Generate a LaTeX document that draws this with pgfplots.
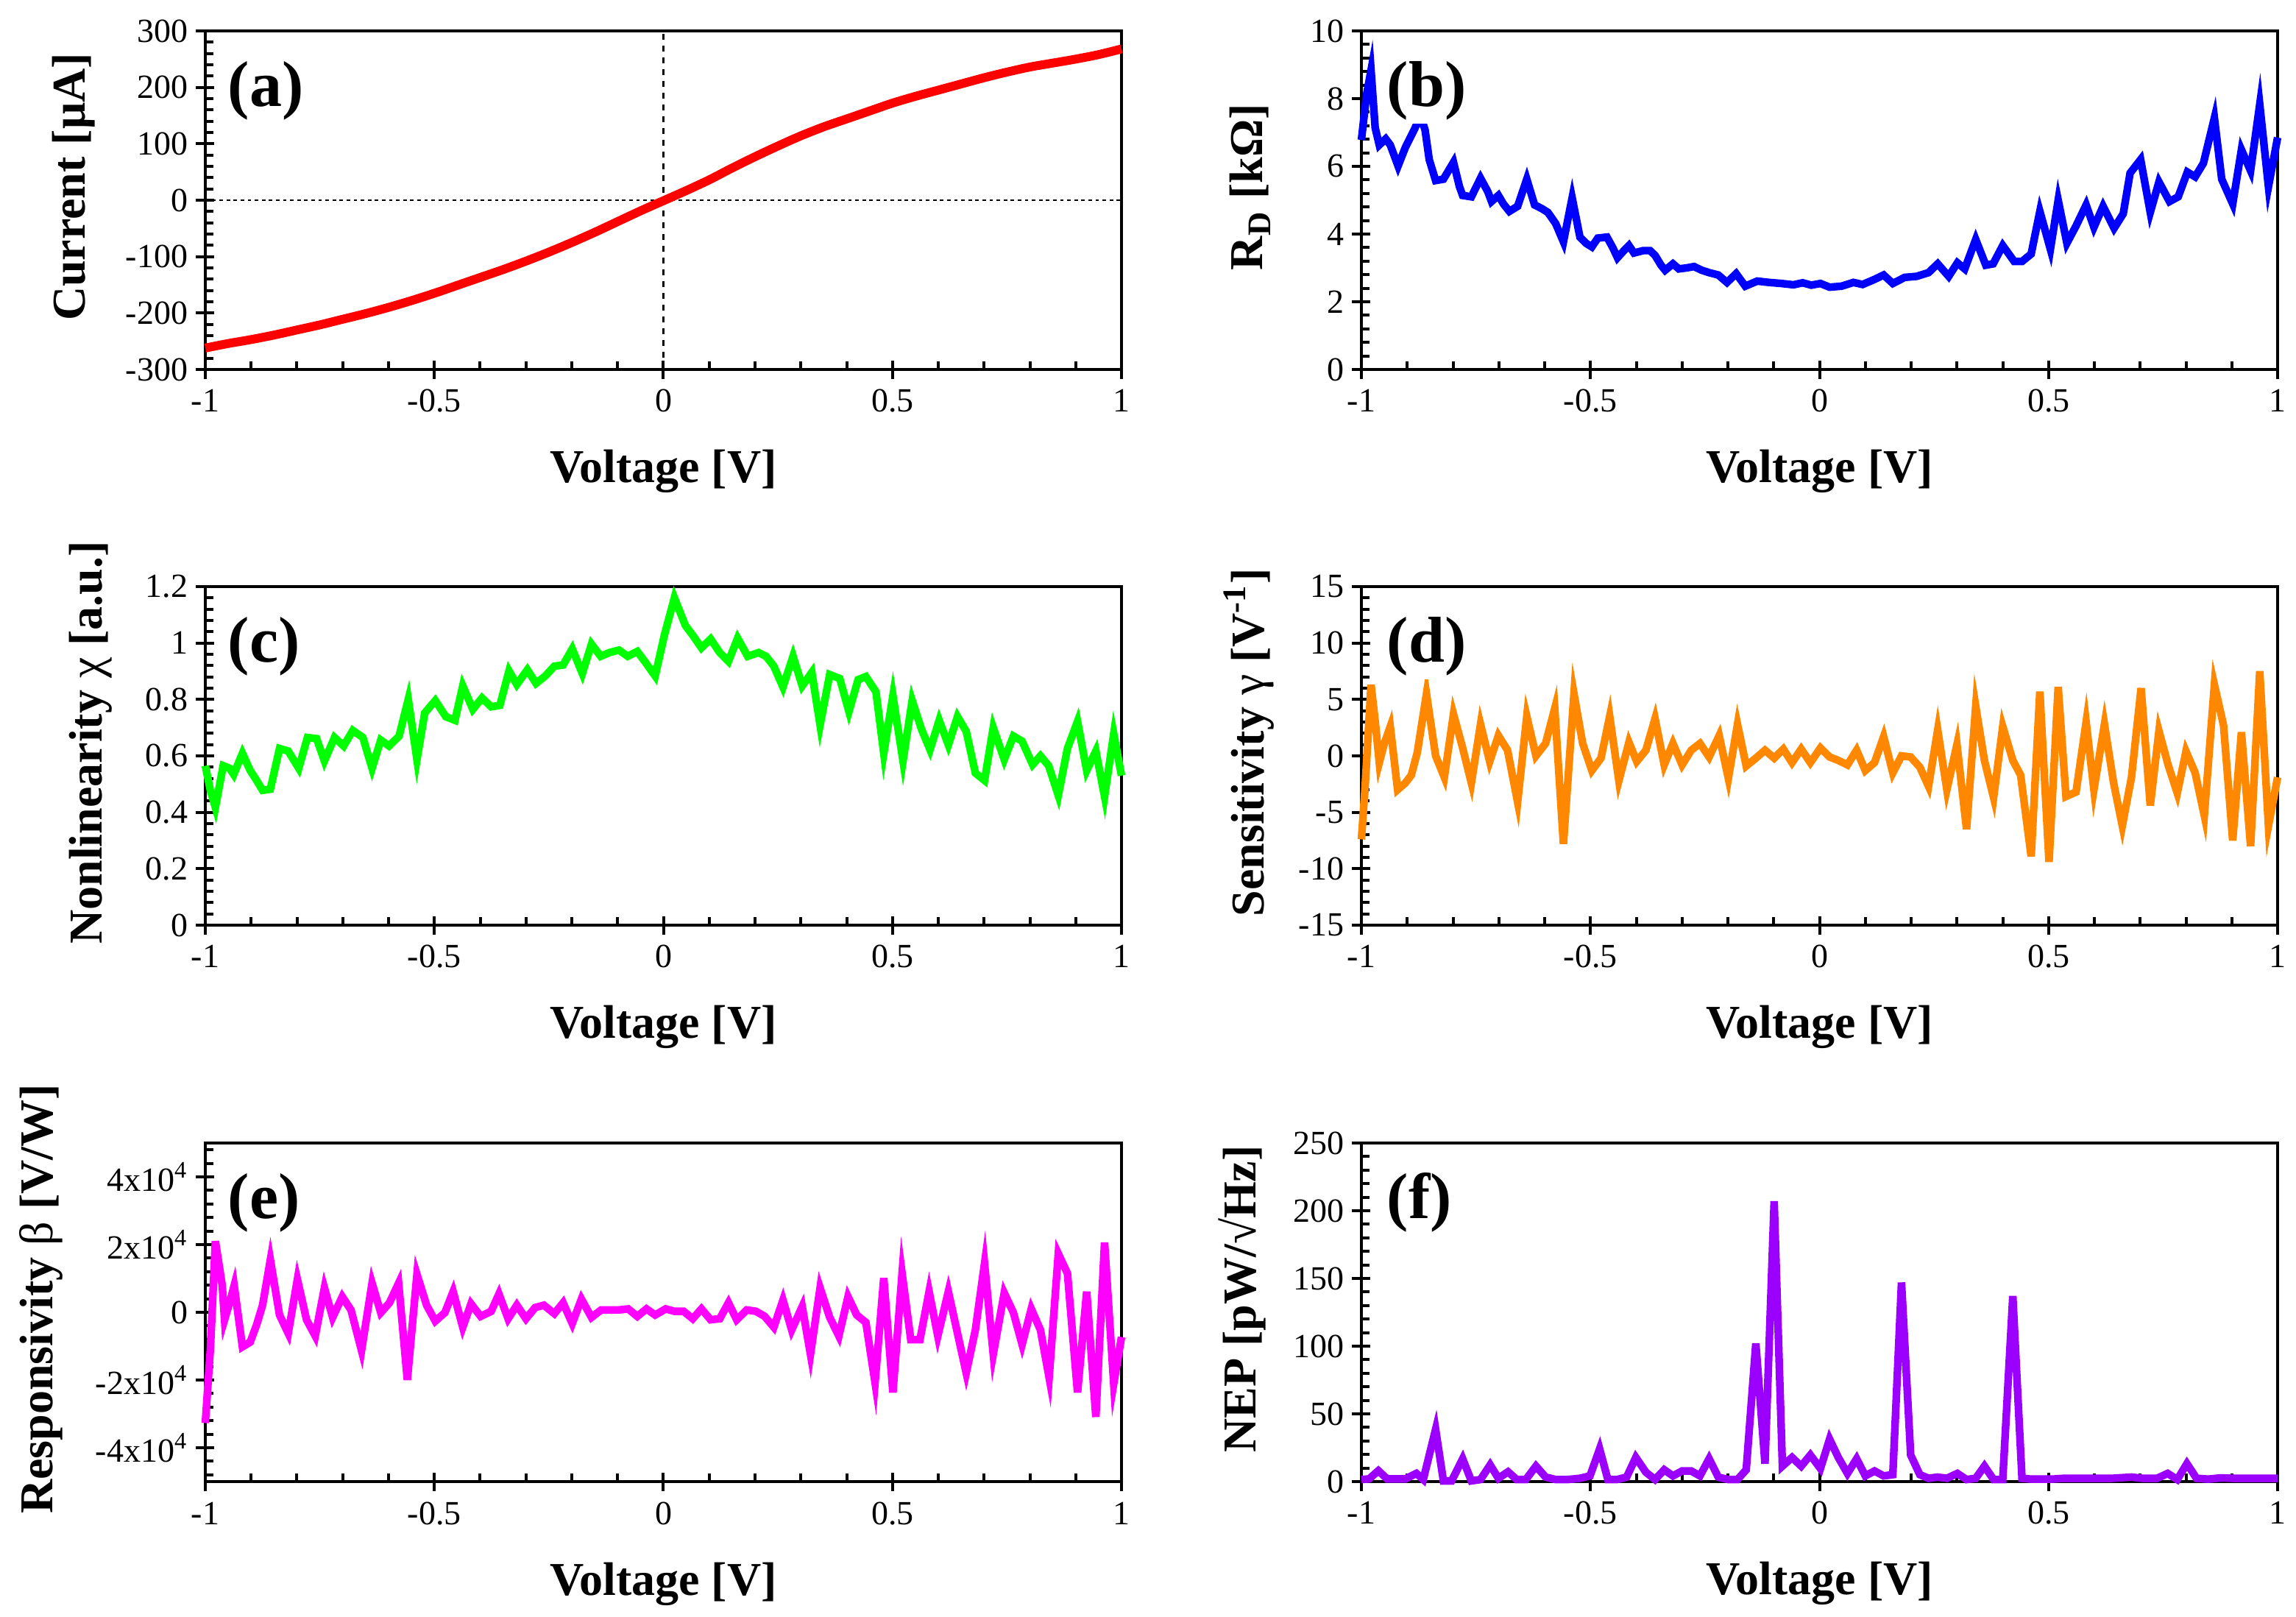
\documentclass[border=0pt]{standalone}
\usepackage{fontspec}
\setmainfont{Liberation Serif}
\usepackage{pgfplots}
\pgfplotsset{compat=1.18}
\definecolor{cA}{RGB}{255,0,0}
\definecolor{cB}{RGB}{0,0,255}
\definecolor{cC}{RGB}{0,255,0}
\definecolor{cD}{RGB}{255,136,0}
\definecolor{cE}{RGB}{255,0,255}
\definecolor{cF}{RGB}{155,0,255}
\tikzset{tag/.style={anchor=base west, font=\fontsize{22}{24}\selectfont\bfseries, fill=white, inner sep=1pt}}
\pgfplotsset{
 panel/.style={
  scale only axis, width=311.25pt, height=115pt, anchor=north west,
  xmin=-1, xmax=1, xtick={-1,-0.5,0,0.5,1}, xticklabels={-1,-0.5,0,0.5,1},
  minor x tick num=4,
  axis line style={line width=1pt},
  tick pos=left, tick align=inside,
  major tick length=6.25pt, minor tick length=2.75pt,
  every tick/.style={black, line width=1pt},
  every major x tick/.append style={yshift=-3.25pt},
  every major y tick/.append style={xshift=-3.25pt},
  xticklabel style={anchor=base, inner sep=0pt, yshift=-14.5pt, font=\fontsize{11.5}{13}\selectfont},
  yticklabel style={anchor=east, inner sep=0pt, xshift=-5.75pt, font=\fontsize{11.5}{13}\selectfont},
  xlabel={Voltage [V]},
  xlabel style={at={([yshift=-38.5pt]axis description cs:0.5,0)}, anchor=base, font=\fontsize{16}{18}\selectfont\bfseries},
  scaled ticks=false,
  clip=false,
 },
 ylab/.style={ylabel style={at={([xshift=-#1,yshift=4.5pt]axis description cs:0,0.5)}, anchor=center, font=\fontsize{16}{18}\selectfont\bfseries}},
}
\begin{document}
\begin{tikzpicture}
\useasboundingbox (0,0) rectangle (780pt,549.25pt);
% (a)
\begin{axis}[panel, at={(69.75pt,538.75pt)}, ylab=44.75pt,
  ymin=-300, ymax=300, ytick={-300,-200,-100,0,100,200,300},
  yticklabels={-300,-200,-100,0,100,200,300}, minor y tick num=4,
  ylabel={Current [μA]}]
\addplot[black, line width=0.6pt, dash pattern=on 2pt off 2pt] coordinates {(0,-300) (0,300)};
\addplot[black, line width=0.6pt, dash pattern=on 1.2pt off 1.2pt] coordinates {(-1,0) (1,0)};
\addplot[cA, line width=3pt, smooth] table {
-1.00 -262
-0.95 -254
-0.90 -247
-0.85 -239
-0.80 -230
-0.75 -221
-0.70 -211
-0.65 -201
-0.60 -190
-0.55 -178
-0.50 -165
-0.45 -151
-0.40 -137
-0.35 -123
-0.30 -108
-0.25 -92
-0.20 -75
-0.15 -57
-0.10 -38
-0.05 -19
0.00 -1
0.05 17
0.10 36
0.15 57
0.20 77
0.25 96
0.30 114
0.35 130
0.40 144
0.45 158
0.50 172
0.55 184
0.60 195
0.65 206
0.70 217
0.75 227
0.80 236
0.85 243
0.90 250
0.95 258
1.00 268
};
\node[tag] at ([xshift=6.5pt,yshift=-25.75pt]rel axis cs:0,1) {(a)};
\end{axis}
% (b)
\begin{axis}[panel, at={(462.5pt,538.75pt)}, ylab=37.75pt,
  ymin=0, ymax=10, ytick={0,2,4,6,8,10}, yticklabels={0,2,4,6,8,10}, minor y tick num=4,
  ylabel={R\textsubscript{D} [kΩ]}]
\addplot[cB, line width=2.6pt] table {
-1.000 6.78
-0.989 8.10
-0.979 8.84
-0.970 7.14
-0.961 6.63
-0.947 6.81
-0.937 6.63
-0.920 6.01
-0.904 6.56
-0.884 7.10
-0.871 7.50
-0.861 7.07
-0.852 6.20
-0.838 5.58
-0.821 5.62
-0.799 6.12
-0.786 5.40
-0.779 5.14
-0.760 5.10
-0.740 5.65
-0.724 5.25
-0.716 4.96
-0.701 5.14
-0.690 4.89
-0.677 4.67
-0.659 4.82
-0.639 5.62
-0.622 4.86
-0.606 4.75
-0.593 4.64
-0.576 4.31
-0.559 3.77
-0.540 5.07
-0.523 3.91
-0.510 3.73
-0.497 3.62
-0.484 3.88
-0.464 3.91
-0.451 3.59
-0.441 3.30
-0.429 3.48
-0.416 3.66
-0.405 3.44
-0.385 3.51
-0.370 3.51
-0.359 3.37
-0.346 3.08
-0.337 2.93
-0.320 3.12
-0.307 2.97
-0.290 3.00
-0.274 3.04
-0.257 2.93
-0.241 2.86
-0.221 2.79
-0.202 2.57
-0.182 2.83
-0.162 2.46
-0.136 2.61
-0.110 2.57
-0.083 2.54
-0.057 2.50
-0.037 2.56
-0.018 2.49
0.002 2.54
0.022 2.43
0.048 2.46
0.074 2.57
0.094 2.51
0.120 2.66
0.140 2.79
0.160 2.54
0.186 2.72
0.212 2.75
0.238 2.86
0.258 3.12
0.282 2.75
0.301 3.15
0.317 2.97
0.341 3.84
0.363 3.08
0.379 3.12
0.400 3.66
0.425 3.19
0.442 3.19
0.462 3.41
0.481 4.67
0.504 3.55
0.521 5.00
0.540 3.73
0.560 4.24
0.582 4.86
0.599 4.20
0.619 4.82
0.643 4.17
0.663 4.60
0.678 5.80
0.701 6.20
0.722 4.64
0.741 5.54
0.764 4.96
0.783 5.10
0.803 5.83
0.820 5.69
0.838 6.09
0.862 7.43
0.878 5.62
0.902 4.89
0.921 6.49
0.941 5.87
0.961 7.83
0.980 5.40
1.000 6.85
};
\node[tag] at ([xshift=7.5pt,yshift=-25.75pt]rel axis cs:0,1) {(b)};
\end{axis}
% (c)
\begin{axis}[panel, at={(69.75pt,350pt)}, ylab=39pt,
  ymin=0, ymax=1.2, ytick={0,0.2,0.4,0.6,0.8,1,1.2}, yticklabels={0,0.2,0.4,0.6,0.8,1,1.2}, minor y tick num=4,
  ylabel={Nonlinearity {\mdseries χ} [a.u.]}]
\addplot[cC, line width=2.6pt] table {
-1.000 0.565
-0.989 0.478
-0.978 0.417
-0.961 0.565
-0.947 0.556
-0.938 0.534
-0.919 0.609
-0.902 0.548
-0.888 0.513
-0.875 0.478
-0.858 0.482
-0.838 0.626
-0.819 0.617
-0.796 0.556
-0.777 0.665
-0.757 0.661
-0.740 0.582
-0.718 0.665
-0.698 0.635
-0.678 0.690
-0.656 0.665
-0.636 0.556
-0.617 0.656
-0.599 0.635
-0.577 0.670
-0.557 0.800
-0.538 0.587
-0.521 0.752
-0.498 0.796
-0.475 0.739
-0.455 0.726
-0.438 0.848
-0.416 0.765
-0.396 0.805
-0.376 0.774
-0.357 0.779
-0.337 0.901
-0.320 0.853
-0.297 0.905
-0.278 0.857
-0.258 0.883
-0.238 0.918
-0.219 0.922
-0.199 0.979
-0.177 0.892
-0.157 0.996
-0.137 0.953
-0.118 0.966
-0.097 0.975
-0.078 0.953
-0.057 0.970
-0.039 0.931
-0.018 0.883
0.002 1.027
0.024 1.160
0.048 1.062
0.066 1.023
0.083 0.983
0.103 1.014
0.123 0.966
0.142 0.935
0.162 1.017
0.184 0.953
0.208 0.966
0.224 0.953
0.241 0.918
0.261 0.844
0.283 0.953
0.303 0.848
0.324 0.896
0.342 0.709
0.363 0.888
0.385 0.874
0.405 0.757
0.425 0.870
0.442 0.881
0.464 0.827
0.481 0.609
0.501 0.813
0.523 0.582
0.543 0.796
0.563 0.696
0.582 0.622
0.602 0.726
0.622 0.639
0.642 0.739
0.661 0.687
0.681 0.539
0.701 0.513
0.720 0.700
0.744 0.587
0.764 0.670
0.783 0.652
0.806 0.569
0.823 0.600
0.841 0.565
0.862 0.460
0.882 0.626
0.904 0.722
0.924 0.548
0.944 0.617
0.963 0.456
0.983 0.678
1.000 0.530
};
\node[tag] at ([xshift=6.5pt,yshift=-25.75pt]rel axis cs:0,1) {(c)};
\end{axis}
% (d)
\begin{axis}[panel, at={(462.5pt,350pt)}, ylab=38.25pt,
  ymin=-15, ymax=15, ytick={-15,-10,-5,0,5,10,15}, yticklabels={-15,-10,-5,0,5,10,15}, minor y tick num=4,
  ylabel={Sensitivity {\mdseries γ} [V\textsuperscript{-1}]}]
\addplot[cD, line width=2.6pt] table {
-1.000 -7.4
-0.992 -2.8
-0.979 6.3
-0.970 3.1
-0.961 -0.6
-0.950 1.1
-0.937 2.6
-0.921 -3.0
-0.904 -2.4
-0.891 -1.7
-0.878 0.3
-0.858 5.5
-0.838 0.0
-0.819 -1.9
-0.799 3.7
-0.779 0.7
-0.760 -2.4
-0.740 2.8
-0.720 -0.5
-0.701 1.8
-0.681 0.5
-0.659 -4.1
-0.639 3.5
-0.619 0.0
-0.598 1.1
-0.578 4.2
-0.559 -7.8
-0.536 5.5
-0.517 1.1
-0.497 -1.3
-0.477 -0.2
-0.458 3.5
-0.438 -2.2
-0.416 1.2
-0.399 -0.5
-0.379 0.5
-0.359 3.3
-0.339 -0.8
-0.320 1.1
-0.300 -0.8
-0.280 0.5
-0.261 1.1
-0.241 -0.1
-0.219 1.8
-0.199 -2.0
-0.179 2.8
-0.160 -0.9
-0.139 -0.2
-0.119 0.5
-0.099 -0.2
-0.079 0.6
-0.060 -0.6
-0.040 0.6
-0.020 -0.6
0.002 0.7
0.022 -0.1
0.041 -0.4
0.061 -0.8
0.081 0.5
0.100 -1.3
0.120 -0.6
0.140 1.7
0.160 -1.5
0.179 0.0
0.199 -0.1
0.219 -1.0
0.238 -2.7
0.258 2.3
0.278 -3.0
0.300 1.0
0.321 -6.5
0.341 4.4
0.360 -0.4
0.380 -3.7
0.400 2.6
0.422 -0.4
0.439 -1.7
0.462 -8.9
0.481 5.7
0.501 -9.4
0.521 6.1
0.538 -3.6
0.560 -3.2
0.582 3.0
0.599 -3.0
0.622 2.8
0.642 -2.4
0.661 -6.2
0.681 -1.9
0.702 6.0
0.722 -4.4
0.741 2.2
0.761 -0.8
0.781 -3.3
0.800 0.4
0.820 -1.5
0.840 -5.3
0.862 6.3
0.882 2.7
0.902 -7.5
0.921 2.1
0.941 -8.0
0.961 7.5
0.980 -6.2
1.000 -1.9
};
\node[tag] at ([xshift=7.5pt,yshift=-25.75pt]rel axis cs:0,1) {(d)};
\end{axis}
% (e)
\begin{axis}[panel, at={(69.75pt,161pt)}, ylab=55.75pt,
  ymin=-50000, ymax=50000, ytick={-40000,-20000,0,20000,40000},
  yticklabels={-4x10\textsuperscript{4},-2x10\textsuperscript{4},0,2x10\textsuperscript{4},4x10\textsuperscript{4}},
  minor ytick={-48000,-44000,-36000,-32000,-28000,-24000,-16000,-12000,-8000,-4000,4000,8000,12000,16000,24000,28000,32000,36000,44000,48000},
  ylabel={Responsivity {\mdseries β} [V/W]}]
\addplot[cE, line width=2.6pt] table {
-1.000 -32700
-0.989 -11000
-0.978 21000
-0.963 7900
-0.958 -2200
-0.947 2800
-0.937 7900
-0.919 -10200
-0.902 -8800
-0.888 -3700
-0.875 2100
-0.858 15500
-0.838 -800
-0.819 -6200
-0.799 9700
-0.779 -2200
-0.760 -7000
-0.740 7200
-0.722 -1500
-0.701 4600
-0.682 700
-0.659 -11300
-0.636 8600
-0.617 -100
-0.598 2800
-0.578 8600
-0.559 -20000
-0.538 11200
-0.517 2100
-0.498 -2600
-0.477 -100
-0.459 6100
-0.438 -4400
-0.420 2500
-0.399 -1200
-0.376 300
-0.359 5400
-0.339 -1900
-0.320 2100
-0.300 -1900
-0.280 1400
-0.261 2100
-0.238 -400
-0.219 2800
-0.199 -3300
-0.179 3900
-0.157 -1500
-0.136 700
-0.116 700
-0.097 700
-0.077 1000
-0.057 -1200
-0.037 1000
-0.018 -800
0.005 1000
0.024 300
0.044 300
0.064 -1900
0.083 1000
0.103 -2200
0.123 -1900
0.142 2800
0.160 -2200
0.182 700
0.202 300
0.221 -1200
0.241 -4400
0.261 3600
0.280 -5200
0.303 1700
0.321 -12400
0.342 7200
0.363 -1500
0.383 -7000
0.403 4600
0.422 -800
0.442 -3000
0.462 -20800
0.481 10100
0.501 -23700
0.521 11500
0.540 -8100
0.560 -8100
0.580 6100
0.599 -7000
0.622 6100
0.642 -6200
0.661 -17900
0.681 -5200
0.701 14400
0.720 -12400
0.744 5700
0.764 -100
0.783 -9500
0.803 1000
0.823 -5200
0.842 -19300
0.862 17300
0.882 11500
0.904 -23700
0.924 6100
0.944 -30900
0.963 20600
0.983 -21100
1.000 -7300
};
\node[tag] at ([xshift=6.5pt,yshift=-25.75pt]rel axis cs:0,1) {(e)};
\end{axis}
% (f)
\begin{axis}[panel, at={(462.5pt,161pt)}, ylab=40.5pt,
  ymin=0, ymax=250, ytick={0,50,100,150,200,250}, yticklabels={0,50,100,150,200,250}, minor y tick num=4,
  ylabel={NEP [pW/√Hz]}]
\addplot[cF, line width=2.6pt] table {
-1.000 1.5
-0.983 2.0
-0.963 8.0
-0.944 2.0
-0.924 2.0
-0.904 2.0
-0.880 6.0
-0.865 1.5
-0.838 38.6
-0.821 0.5
-0.803 0.5
-0.779 16.8
-0.760 0.5
-0.740 1.5
-0.719 12.3
-0.701 2.4
-0.680 7.2
-0.661 1.5
-0.641 1.5
-0.619 11.4
-0.598 3.3
-0.576 1.5
-0.550 1.5
-0.523 2.4
-0.501 4.2
-0.480 24.1
-0.462 1.5
-0.442 1.5
-0.421 3.3
-0.401 17.8
-0.379 6.9
-0.359 1.5
-0.339 8.7
-0.320 4.2
-0.300 7.8
-0.280 7.8
-0.261 4.2
-0.241 16.8
-0.221 3.3
-0.199 1.5
-0.179 1.5
-0.160 8.7
-0.139 102
-0.119 13.2
-0.099 207
-0.081 11.4
-0.060 17.8
-0.040 11.4
-0.020 19.6
0.002 9.6
0.022 31.3
0.041 17.8
0.061 6.0
0.081 16.8
0.100 4.2
0.120 7.8
0.140 4.2
0.160 5.1
0.179 147
0.199 19.6
0.219 5.1
0.238 2.4
0.258 3.3
0.278 2.4
0.301 6.0
0.321 1.5
0.341 2.4
0.360 11.4
0.380 1.5
0.400 1.5
0.422 137
0.442 2.4
0.462 1.8
0.481 1.8
0.508 1.8
0.534 2.4
0.560 2.4
0.599 2.4
0.639 2.4
0.681 3.3
0.705 2.4
0.737 2.4
0.760 6.0
0.781 1.5
0.802 13.2
0.823 2.4
0.849 1.8
0.875 2.7
0.902 2.4
0.928 2.4
0.967 2.4
1.000 2.4
};
\node[tag] at ([xshift=7.5pt,yshift=-25.75pt]rel axis cs:0,1) {(f)};
\end{axis}
\end{tikzpicture}
\end{document}
